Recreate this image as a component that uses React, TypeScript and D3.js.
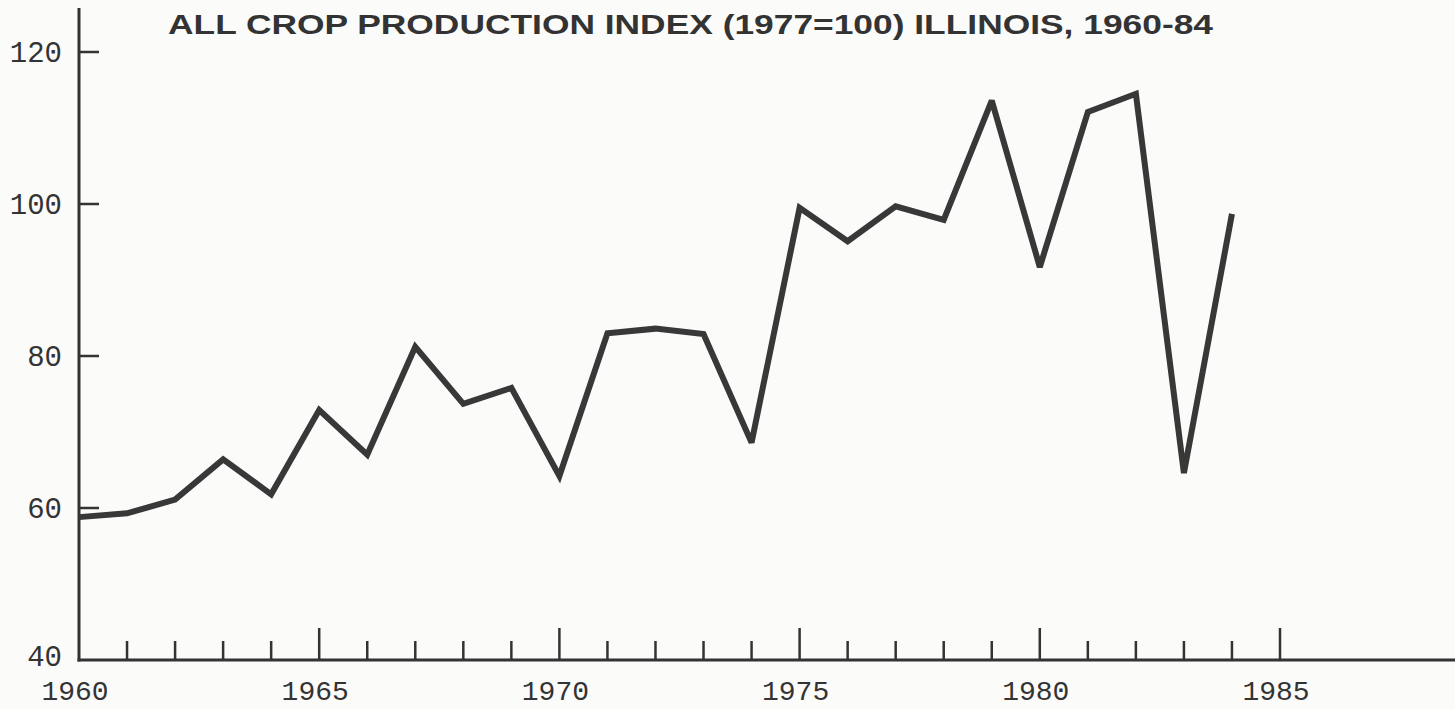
import React from 'react'
import * as d3 from 'd3'

// All crop production index, Illinois (1977 = 100)
const years = [
  1960, 1961, 1962, 1963, 1964, 1965, 1966, 1967, 1968, 1969, 1970, 1971, 1972,
  1973, 1974, 1975, 1976, 1977, 1978, 1979, 1980, 1981, 1982, 1983, 1984
]
const indexValues = [
  58.8, 59.3, 61.1, 66.4, 61.8, 72.9, 67.0, 81.2, 73.7, 75.8, 64.2, 83.0, 83.6,
  82.9, 68.6, 99.5, 95.1, 99.7, 97.9, 113.6, 91.7, 112.1, 114.5, 64.6, 98.7
]
const yTicks = [40, 60, 80, 100, 120]
const xTicks = d3.range(1960, 1986)
const xLabels = [1960, 1965, 1970, 1975, 1980, 1985]
const title = 'ALL CROP PRODUCTION INDEX (1977=100) ILLINOIS, 1960-84'

const WIDTH = 1455
const HEIGHT = 709
const INK = '#333333'
const MONO = '"Liberation Mono", "DejaVu Sans Mono", monospace'

export default function App() {
  const margin = { top: 8, left: 79, bottom: 49 }
  const plotBottom = HEIGHT - margin.bottom

  const x = d3.scaleLinear().domain([1960, 1985]).range([margin.left, 1280])
  const y = d3.scaleLinear().domain([40, 120]).range([plotBottom, 52])

  const data = years.map((yr, i) => ({ year: yr, value: indexValues[i] }))

  const line = d3
    .line<{ year: number; value: number }>()
    .x(d => x(d.year))
    .y(d => y(d.value))

  return (
    <svg
      width={WIDTH}
      height={HEIGHT}
      style={{ position: 'absolute', left: 0, top: 0, background: '#fbfbfa' }}
    >
      {/* title */}
      <text
        x={168}
        y={34}
        textLength={1045}
        lengthAdjust="spacingAndGlyphs"
        style={{
          fontFamily: '"Liberation Sans", Arial, sans-serif',
          fontWeight: 700,
          fontSize: 27,
          fill: INK
        }}
      >
        {title}
      </text>

      {/* y axis */}
      <line
        x1={margin.left}
        x2={margin.left}
        y1={margin.top}
        y2={plotBottom + 1.5}
        stroke={INK}
        strokeWidth={3}
      />
      {yTicks.map(t => (
        <g key={t}>
          {t !== 40 && (
            <line
              x1={margin.left}
              x2={margin.left + 20}
              y1={y(t)}
              y2={y(t)}
              stroke={INK}
              strokeWidth={2.5}
            />
          )}
          <text
            x={62}
            y={y(t) + (t === 40 ? 6 : 10)}
            textAnchor="end"
            style={{ fontFamily: MONO, fontSize: 29, fill: INK }}
          >
            {t}
          </text>
        </g>
      ))}

      {/* x axis */}
      <line
        x1={margin.left - 1.5}
        x2={WIDTH}
        y1={plotBottom}
        y2={plotBottom}
        stroke={INK}
        strokeWidth={3}
      />
      {xTicks
        .filter(t => t !== 1960)
        .map(t => (
          <line
            key={t}
            x1={x(t)}
            x2={x(t)}
            y1={plotBottom}
            y2={plotBottom - (t % 5 === 0 ? 32 : 19)}
            stroke={INK}
            strokeWidth={2.5}
          />
        ))}
      {xLabels.map(t => (
        <text
          key={t}
          x={x(t) - 4}
          y={700}
          textAnchor="middle"
          style={{ fontFamily: MONO, fontSize: 28, fill: INK }}
        >
          {t}
        </text>
      ))}

      {/* index line */}
      <path
        d={line(data) ?? ''}
        fill="none"
        stroke="#383838"
        strokeWidth={6}
        strokeLinejoin="miter"
        strokeMiterlimit={3}
      />
    </svg>
  )
}
